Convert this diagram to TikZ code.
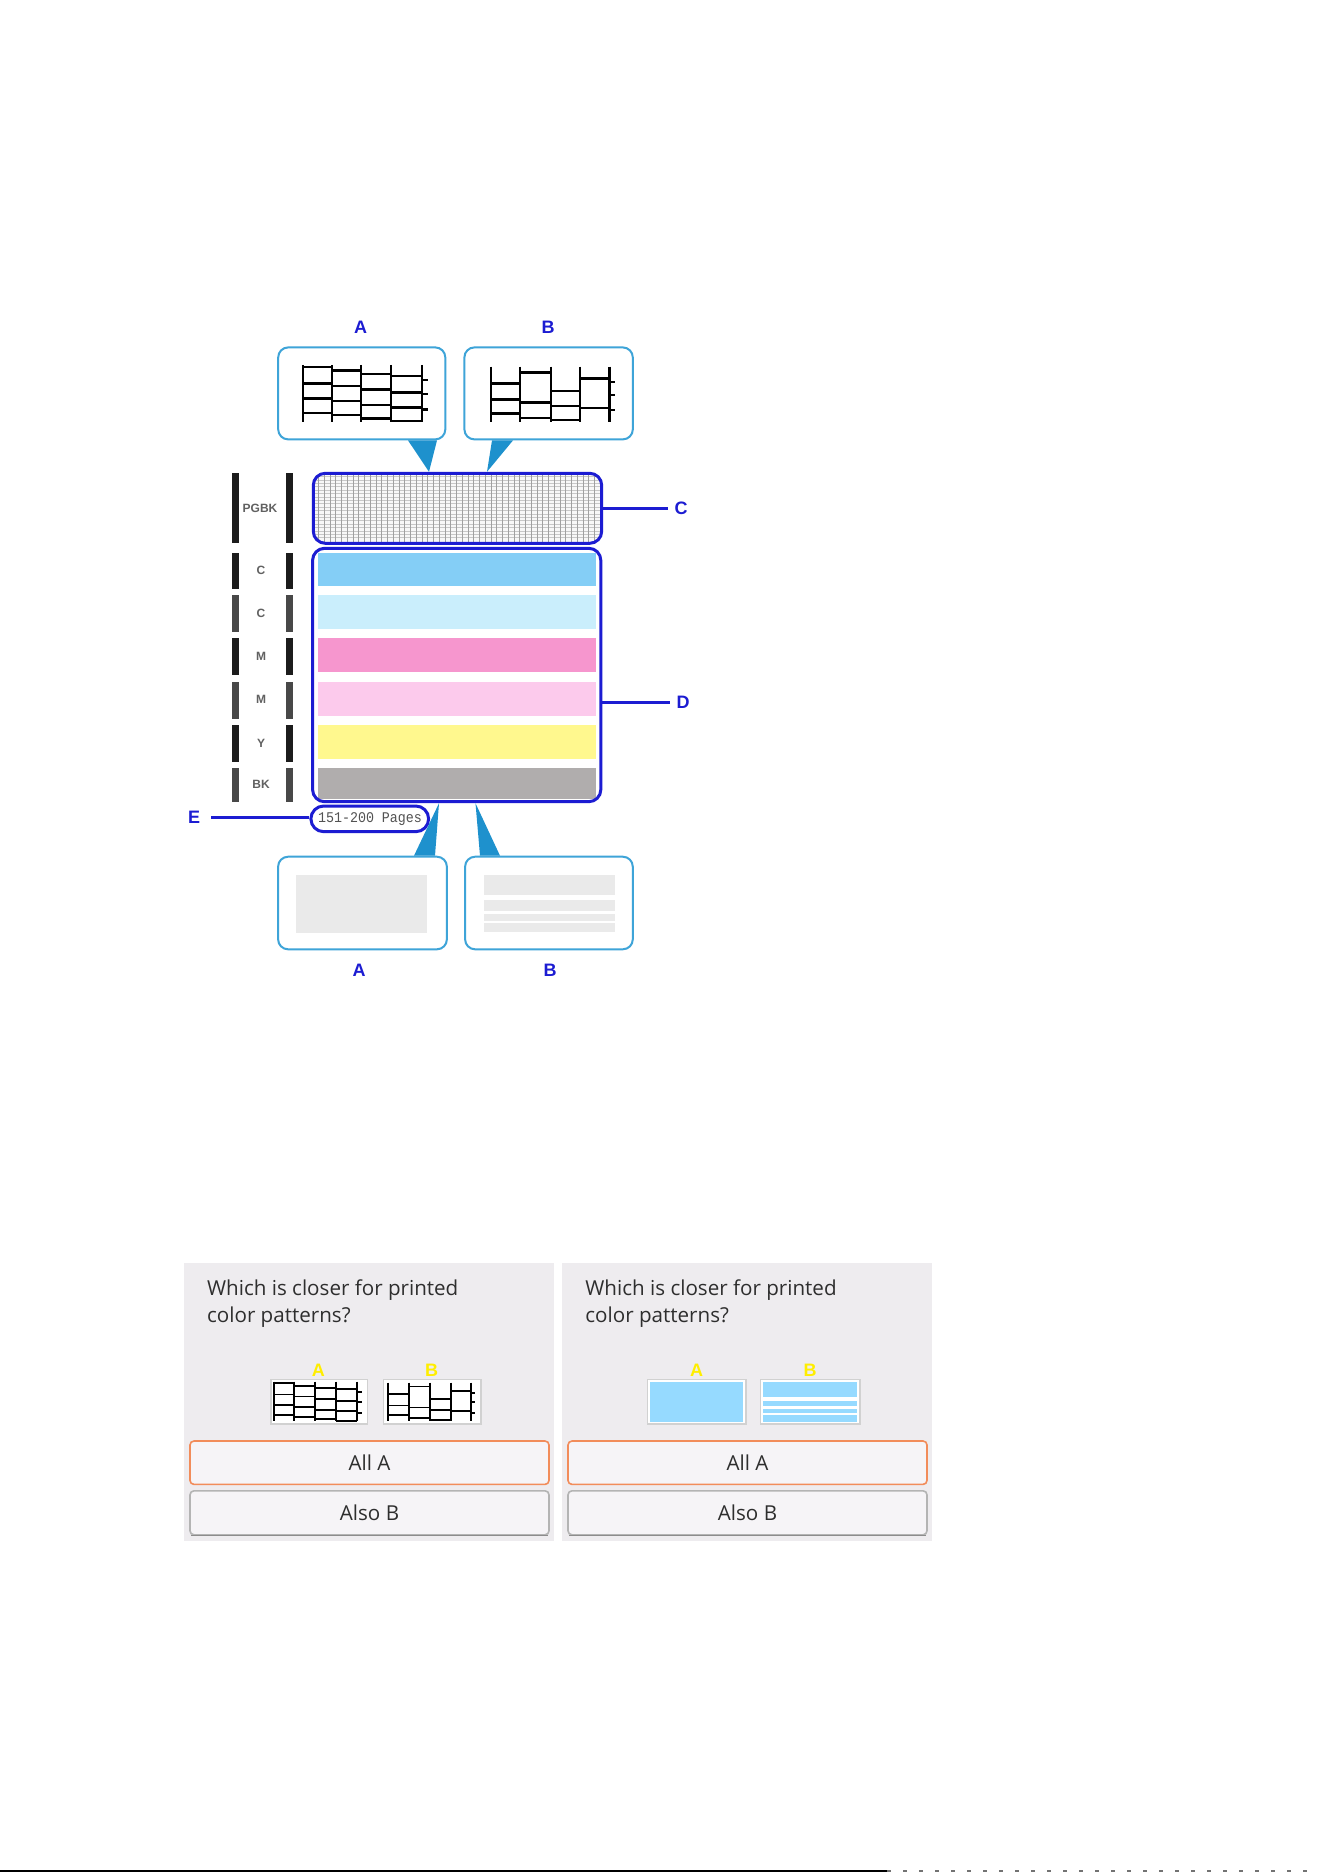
\documentclass[tikz,border=0pt]{standalone}
\usepackage{fontspec}
\setmainfont{Open Sans}
\setsansfont{Liberation Sans}
\setmonofont{Liberation Mono}
\newfontfamily\pagefont[FakeStretch=0.9]{Liberation Mono}
\usepackage{tikz}
\usetikzlibrary{positioning, fit, calc}
\definecolor{markblue}{RGB}{28,28,210}
\definecolor{callline}{RGB}{62,164,216}
\definecolor{callfill}{RGB}{30,145,205}
\definecolor{gridbg}{RGB}{248,248,248}
\definecolor{gridv}{RGB}{160,160,160}
\definecolor{gridh}{RGB}{200,200,200}
\definecolor{stripeC}{RGB}{132,206,246}
\definecolor{stripeLC}{RGB}{202,238,252}
\definecolor{stripeM}{RGB}{246,150,206}
\definecolor{stripeLM}{RGB}{252,202,236}
\definecolor{stripeY}{RGB}{255,248,142}
\definecolor{stripeBK}{RGB}{176,173,173}
\definecolor{inkdark}{RGB}{28,28,28}
\definecolor{inklight}{RGB}{72,72,72}
\definecolor{pastegray}{RGB}{234,234,234}
\definecolor{panelbg}{RGB}{238,236,239}
\definecolor{btnfill}{RGB}{246,244,247}
\definecolor{btnorange}{RGB}{242,140,90}
\definecolor{btngray}{RGB}{180,180,180}
\definecolor{btnshade}{RGB}{140,140,140}
\definecolor{minicyan}{RGB}{150,218,255}
\definecolor{miniyellow}{RGB}{255,238,0}

\begin{document}
\begin{tikzpicture}[x=0.5pt, y=-0.5pt,
  letterlbl/.style={font=\sffamily\bfseries\fontsize{9}{9}\selectfont,
                    text=markblue, inner sep=3pt},
  framebox/.style={draw=markblue, line width=1.5pt, rounded corners=6pt,
                   inner sep=0pt},
  callbox/.style={draw=callline, line width=1pt, rounded corners=5pt,
                  fill=white, inner sep=0pt},
  pointer/.style={fill=callfill},
  leader/.style={draw=markblue, line width=1.5pt},
  chanlbl/.style={font=\sffamily\bfseries\fontsize{6}{6}\selectfont,
                  text=black!62, inner sep=0pt},
  uitext/.style={font=\fontsize{10.3}{12}\selectfont, text=black!82,
                 inner sep=0pt},
  minilbl/.style={font=\sffamily\bfseries\fontsize{9}{9}\selectfont,
                  text=miniyellow, inner sep=0pt},
  minibox/.style={draw=black!18, line width=0.6pt, fill=white, inner sep=0pt},
  btnsel/.style={draw=btnorange, line width=0.8pt, fill=btnfill,
                 rounded corners=2pt, font=\fontsize{10.3}{12}\selectfont,
                 text=black!82, minimum width=179.5pt},
  btnplain/.style={btnsel, draw=btngray},
  inkpat/.style={line width=1.2pt, draw=black},
  patA/.pic={
    \foreach \x in {0,29,58.3,88.3,119} \draw (\x,0) -- (\x,56.7);
    \foreach \y in {2.3,18.3,33.3,47.7} \draw (0,\y) -- (29,\y);
    \foreach \y in {5.7,21,35.7,50} \draw (29,\y) -- (58.3,\y);
    \foreach \y in {9,24.3,40,53.3} \draw (58.3,\y) -- (88.3,\y);
    \foreach \y in {10.7,27.3,42.3,55.7} \draw (88.3,\y) -- (119,\y);
    \foreach \y in {15,29,44.3} \draw (119,\y) -- (125,\y);
  },
  patB/.pic={
    \foreach \x in {0,29,60,89,118.3} \draw (\x,0) -- (\x,55);
    \foreach \y in {16.7,32.7,46.7} \draw (0,\y) -- (29,\y);
    \foreach \y in {5.7,35.7,51} \draw (29,\y) -- (60,\y);
    \foreach \y in {24,39.3,53.3} \draw (60,\y) -- (89,\y);
    \foreach \y in {11.7,41} \draw (89,\y) -- (118.3,\y);
    \foreach \y in {15,28.3,43.3} \draw (118.3,\y) -- (124,\y);
  },
]

\fill[white] (0,0) rectangle (1324,1872);
\useasboundingbox (0,0) rectangle (1324,1872);

% ---------------------------------------------------------------
% check pattern: nozzle grid C and colour stripes D
% ---------------------------------------------------------------
\begin{scope}
  \clip[rounded corners=6pt] (313.3,473.3) rectangle (601.7,543.3);
  \fill[gridbg] (313.3,473.3) rectangle (601.7,543.3);
  \foreach \y in {476.5,479.9,...,541} \draw[gridh, line width=0.35pt] (313,\y) -- (602,\y);
  \foreach \x in {318.5,324.25,...,598} \draw[gridv, line width=0.45pt] (\x,473) -- (\x,544);
\end{scope}
\node[framebox, fit={(313.3,473.3) (601.7,543.3)}] (gridC) {};

\fill[inkdark] (231.7,473.3) rectangle (238.7,542.7);
\fill[inkdark] (285.5,473.3) rectangle (292.5,542.7);
\node[chanlbl] (chanPG) at (260,508.5) {PGBK};

\foreach \ya/\yb/\col/\shade/\lbl [count=\i] in
  {552.7/586/stripeC/inkdark/C, 595/629.3/stripeLC/inklight/C,
   638.3/672.3/stripeM/inkdark/M, 681.7/715.7/stripeLM/inklight/M,
   725/759/stripeY/inkdark/Y, 768.3/798.5/stripeBK/inklight/BK} {
  \fill[\col] (317.7,\ya) rectangle (595.6,\yb);
  \fill[\shade] (231.7,\ya) rectangle (238.7,\yb+3);
  \fill[\shade] (285.5,\ya) rectangle (292.5,\yb+3);
  \node[chanlbl] (chan\i) at (261,{(\ya+\yb)/2+1}) {\lbl};
}
\node[framebox, fit={(312.6,548.3) (600.8,801.7)}] (gridD) {};

\node[framebox, rounded corners=6.4pt, fit={(310.9,806) (428.6,831.7)}] (pages) {};
\node[font=\pagefont\fontsize{7.4}{7.4}\selectfont, text=black!68, inner sep=0pt,
      anchor=base] (pagestxt) at (370,822.5) {151-200 Pages};

% leaders
\node[letterlbl] (labC) at (681,508.3) {C};
\node[letterlbl] (labD) at (683,702) {D};
\node[letterlbl, inner xsep=5.5pt] (labE) at (194,817.3) {E};
\draw[leader] (gridC.east) -- (labC.west);
\draw[leader] (gridD.east |- labD.west) -- (labD.west);
\draw[leader] (labE.east) -- (pages.west |- labE.east);

% ---------------------------------------------------------------
% callouts above
% ---------------------------------------------------------------
\node[letterlbl] (labAtop) at (360.6,327) {A};
\node[letterlbl] (labBtop) at (548,327) {B};
\node[callbox, fit={(278.2,347.4) (445.3,439.4)}] (calAtop) {};
\node[callbox, fit={(464.4,347.4) (632.8,439.4)}] (calBtop) {};
\pic[inkpat] at (302.7,365) {patA};
\pic[inkpat] at (491,366.7) {patB};
\fill[pointer] (calAtop.south -| 408,0) -- (calAtop.south -| 437,0)
  -- (gridC.north -| 429,0) -- cycle;
\fill[pointer] (calBtop.south -| 492,0) -- (calBtop.south -| 513,0)
  -- (gridC.north -| 487,0) -- cycle;

% ---------------------------------------------------------------
% callouts below
% ---------------------------------------------------------------
\node[callbox, fit={(278.1,856.7) (446.9,949.3)}] (calAbot) {};
\node[callbox, fit={(465.1,856.7) (632.8,949.3)}] (calBbot) {};
\fill[pastegray] (296.4,875) rectangle (427.2,933.3);
\foreach \ya/\yb in {875/894.5, 899.5/910.5, 914/920.5, 922.5/931.5}
  \fill[pastegray] (484,\ya) rectangle (614.6,\yb);
\fill[pointer] (calAbot.north -| 414,0) -- (calAbot.north -| 435,0)
  -- (gridD.south -| 439,0) -- cycle;
\fill[pointer] (calBbot.north -| 480,0) -- (calBbot.north -| 500,0)
  -- (gridD.south -| 475.5,0) -- cycle;
\node[letterlbl] (labAbot) at (359,970) {A};
\node[letterlbl] (labBbot) at (550.2,970) {B};

% ---------------------------------------------------------------
% LCD screens
% ---------------------------------------------------------------
\fill[panelbg] (184,1262.7) rectangle (554,1540.7);
\fill[panelbg] (562.3,1262.7) rectangle (932.3,1540.7);

% left screen
\node[uitext, anchor=base west] (qL1) at (206.7,1295) {Which is closer for printed};
\node[uitext, anchor=base west] (qL2) at (206.7,1322.5) {color patterns?};
\node[minibox, fit={(271,1379.3) (367.7,1424)}] (miniAL) {};
\node[minibox, fit={(383.3,1379.3) (481,1424)}] (miniBL) {};
\pic[inkpat, scale=0.7, line width=0.9pt] at (274,1381.7) {patA};
\pic[inkpat, scale=0.7, line width=0.9pt] at (388.3,1382.5) {patB};
\node[minilbl] (mlAL) at (318.3,1370) {A};
\node[minilbl] (mlBL) at (431.7,1370) {B};
\node[btnsel, minimum height=21.7pt] (allAL) at (369.5,1462.7) {All A};
\node[btnplain, minimum height=22pt] (alsoBL) at (369.5,1512.8) {Also B};
\draw[btnshade, line width=0.8pt] ([xshift=1pt]alsoBL.south west) -- ([xshift=-1pt]alsoBL.south east);

% right screen
\node[uitext, anchor=base west] (qR1) at (585,1295) {Which is closer for printed};
\node[uitext, anchor=base west] (qR2) at (585,1322.5) {color patterns?};
\node[minibox, fit={(647.3,1379.3) (746,1424)}] (miniAR) {};
\fill[minicyan] (650,1381.7) rectangle (743.3,1421.7);
\node[minibox, fit={(760.7,1379.3) (860,1424)}] (miniBR) {};
\foreach \ya/\yb in {1381.7/1396.7, 1400.7/1406.3, 1409/1413, 1415.3/1421.7}
  \fill[minicyan] (763.3,\ya) rectangle (857.3,\yb);
\node[minilbl] (mlAR) at (696.7,1370) {A};
\node[minilbl] (mlBR) at (810,1370) {B};
\node[btnsel, minimum height=21.7pt] (allAR) at (747.5,1462.7) {All A};
\node[btnplain, minimum height=22pt] (alsoBR) at (747.5,1512.8) {Also B};
\draw[btnshade, line width=0.8pt] ([xshift=1pt]alsoBR.south west) -- ([xshift=-1pt]alsoBR.south east);

% page edge
\fill[black] (0,1869.6) rectangle (887,1872);
\draw[black!55, line width=1pt, dash pattern=on 2pt off 6pt] (887,1871) -- (1310,1871);

\end{tikzpicture}
\end{document}
